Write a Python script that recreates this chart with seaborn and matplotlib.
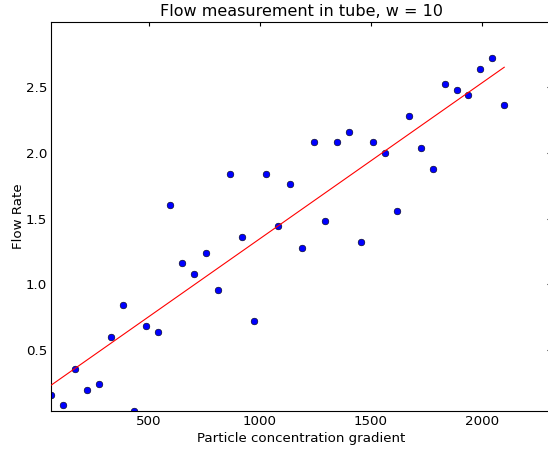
import matplotlib
matplotlib.use("Agg")
import matplotlib.pyplot as plt
import numpy as np
import pandas as pd
import seaborn as sns

# === data ===
gradient = [58, 112, 166, 219, 273, 327, 381, 434, 488, 542,
            596, 649, 703, 757, 811, 864, 918, 972, 1026, 1079,
            1133, 1187, 1241, 1294, 1348, 1402, 1456, 1509, 1563, 1617,
            1671, 1724, 1778, 1832, 1886, 1939, 1993, 2047, 2101]
flow_rate = [0.16, 0.08, 0.36, 0.20, 0.24, 0.60, 0.84, 0.04, 0.68, 0.64,
             1.60, 1.16, 1.08, 1.24, 0.96, 1.84, 1.36, 0.72, 1.84, 1.44,
             1.76, 1.28, 2.08, 1.48, 2.08, 2.16, 1.32, 2.08, 2.00, 1.56,
             2.28, 2.04, 1.88, 2.52, 2.48, 2.44, 2.64, 2.72, 2.36]

TITLE = "Flow measurement in tube, w = 10"
X_LABEL = "Particle concentration gradient"
Y_LABEL = "Flow Rate"

df = pd.DataFrame({"gradient": gradient, "flow": flow_rate})

# classic matplotlib look
sns.set_style("white", {
    "xtick.direction": "in",
    "ytick.direction": "in",
    "axes.edgecolor": "black",
    "text.color": "black",
    "axes.labelcolor": "black",
    "xtick.color": "black",
    "ytick.color": "black",
})
plt.rcParams["font.family"] = ["DejaVu Sans"]
plt.rcParams["xtick.top"] = True
plt.rcParams["ytick.right"] = True
plt.rcParams["xtick.major.size"] = 4
plt.rcParams["ytick.major.size"] = 4

fig = plt.figure(figsize=(548 / 80, 449 / 80), dpi=80)
ax = fig.add_axes([51 / 548, 1 - 410.7 / 449, 500 / 548, 388.4 / 449])

sns.regplot(data=df, x="gradient", y="flow", ax=ax, ci=None,
            scatter_kws={"color": "#0000ff", "s": 36, "edgecolors": "black",
                         "linewidths": 0.5, "alpha": 1, "zorder": 2},
            line_kws={"color": "#ff0000", "lw": 1, "zorder": 3})

ax.set_xlim(min(gradient), max(gradient) * 1.1)
ax.set_ylim(min(flow_rate), max(flow_rate) * 1.1)
ax.set_xticks([500, 1000, 1500, 2000])
ax.set_yticks([0.5, 1.0, 1.5, 2.0, 2.5])
ax.tick_params(labelsize=12, width=1, color="black", labelcolor="black")
for s in ax.spines.values():
    s.set_linewidth(1)
    s.set_color("black")

ax.set_title(TITLE, fontsize=14.4, color="black")
ax.set_xlabel(X_LABEL, fontsize=12, color="black")
ax.set_ylabel(Y_LABEL, fontsize=12, color="black", labelpad=1)

fig.savefig("out.png", dpi=80)
